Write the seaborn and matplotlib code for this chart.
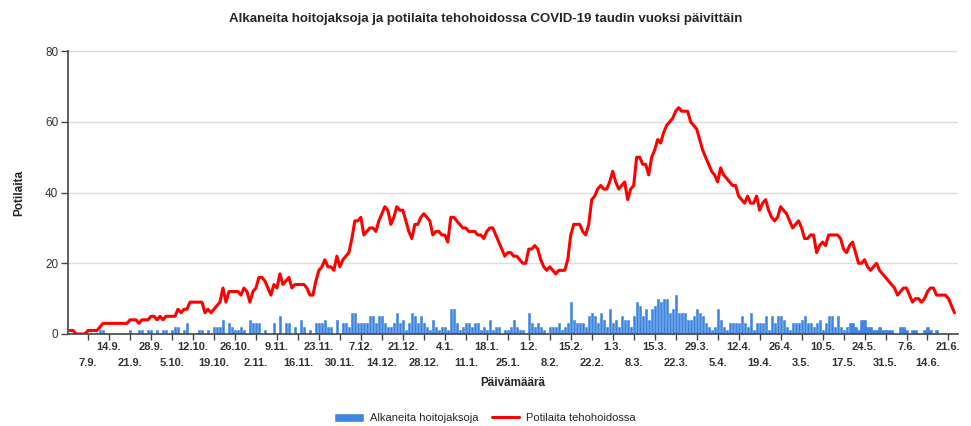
import numpy as np
import pandas as pd
import matplotlib
matplotlib.use("Agg")
import matplotlib.pyplot as plt
import seaborn as sns

# daily values from 1.9.2020 onwards (one entry per day)
start_date = "2020-09-01"

potilaita = [
    1, 1, 0, 0, 0, 0, 1, 1, 1, 1, 2, 3, 3, 3, 3, 3, 3, 3, 3, 3,
    4, 4, 4, 3, 4, 4, 4, 5, 5, 4, 5, 4, 5, 5, 5, 5, 7, 6, 7, 7,
    9, 9, 9, 9, 9, 6, 7, 6, 7, 8,
    9, 13, 9, 12, 12, 12, 12, 11, 13, 12, 9, 12, 13, 16, 16, 15, 13, 11, 14, 13,
    17, 14, 15, 16, 13, 14, 14, 14, 14, 13, 11, 11, 15, 18, 19, 21, 19, 19, 18, 22,
    19, 21, 22, 23, 27, 32, 32, 33, 28, 29,
    30, 30, 29, 32, 34, 36, 35, 31, 33, 36, 35, 35, 32, 29, 27, 31, 31, 33, 34, 33,
    32, 28, 29, 29, 28, 28, 26, 33, 33, 32, 31, 30, 30, 29, 29, 29, 28, 28, 27, 29,
    30, 30, 28, 26, 24, 22, 23, 23, 22, 22,
    21, 20, 20, 24, 24, 25, 24, 21, 19, 18, 19, 18, 17, 18, 18, 18, 21, 28, 31, 31,
    31, 29, 28, 31, 38, 39, 41, 42, 41, 41, 43, 46, 43, 41, 42, 43, 38, 41, 42, 50,
    50, 48, 48, 45, 50, 52, 55, 54, 57, 59,
    60, 61, 63, 64, 63, 63, 63, 60, 59, 58, 55, 52, 50, 48, 46, 45, 43, 47, 45, 44,
    43, 42, 42, 39, 38, 37, 39, 37, 37, 39, 35, 37, 38, 35, 33, 32, 33, 36, 35, 34,
    32, 30, 31, 32, 30, 27, 27, 28, 28, 23,
    25, 26, 25, 28, 28, 28, 28, 27, 24, 23, 25, 26, 23, 20, 20, 21, 19, 18, 19, 20,
    18, 17, 16, 15, 14, 13, 11, 12, 13, 13, 11, 9, 10, 10, 9, 10, 12, 13, 13, 11,
    11, 11, 11, 10, 8, 6,
]

alkaneita = [
    0, 0, 0, 0, 0, 0, 0, 0, 0, 0, 1, 1, 0, 0, 0, 0, 0, 0, 0, 0,
    1, 0, 0, 1, 1, 0, 1, 1, 0, 1, 0, 1, 1, 0, 1, 2, 2, 0, 1, 3,
    0, 0, 0, 1, 1, 0, 1, 0, 2, 2,
    2, 4, 0, 3, 2, 1, 1, 2, 1, 0, 4, 3, 3, 3, 0, 1, 0, 0, 3, 0,
    5, 0, 3, 3, 0, 2, 0, 4, 2, 0, 1, 0, 3, 3, 3, 4, 2, 2, 0, 4,
    0, 3, 3, 2, 6, 6, 3, 3, 3, 3,
    5, 5, 3, 5, 5, 3, 2, 2, 3, 6, 3, 4, 1, 3, 6, 5, 3, 5, 3, 2,
    1, 4, 2, 1, 2, 2, 1, 7, 7, 3, 1, 2, 3, 3, 2, 3, 3, 1, 2, 1,
    4, 1, 2, 2, 0, 1, 1, 2, 4, 2,
    1, 1, 0, 6, 3, 2, 3, 2, 1, 0, 2, 2, 2, 3, 1, 2, 3, 9, 4, 3,
    3, 3, 2, 5, 6, 5, 3, 6, 4, 2, 7, 3, 4, 2, 5, 4, 4, 2, 5, 9,
    8, 5, 7, 4, 7, 8, 10, 9, 10, 10,
    6, 7, 11, 6, 6, 6, 4, 4, 5, 7, 6, 5, 3, 2, 1, 2, 7, 4, 2, 1,
    3, 3, 3, 3, 5, 3, 2, 6, 1, 3, 3, 3, 5, 1, 5, 3, 5, 5, 4, 2,
    1, 3, 3, 3, 4, 5, 3, 3, 2, 3,
    4, 1, 3, 5, 5, 2, 5, 2, 1, 2, 3, 3, 2, 1, 4, 4, 2, 2, 1, 1,
    2, 1, 1, 1, 1, 0, 0, 2, 2, 1, 0, 1, 1, 0, 0, 1, 2, 1, 0, 1,
    0, 0, 0, 0, 0, 0,
]

n = min(len(potilaita), len(alkaneita))
dates = pd.date_range(start_date, periods=n, freq="D")
df = pd.DataFrame({
    "day": np.arange(n),
    "alkaneita": alkaneita[:n],
    "potilaita": potilaita[:n],
})

sns.set_theme(style="white")
plt.rcParams["font.family"] = ["Liberation Sans", "DejaVu Sans"]

fig = plt.figure(figsize=(9.71, 4.26), dpi=100)
ax = fig.add_axes([0.070, 0.216, 0.917, 0.664])

blue = "#3d85e0"
red = "#ff0000"

sns.barplot(data=df, x="day", y="alkaneita", native_scale=True, color=blue,
            width=0.7, saturation=1, edgecolor=blue, linewidth=0.4,
            ax=ax, label="Alkaneita hoitojaksoja")
sns.lineplot(data=df, x="day", y="potilaita", color=red, linewidth=2.2, ax=ax,
             label="Potilaita tehohoidossa")

ax.set_xlim(-0.7, 296.3)
ax.set_ylim(0, 80)
ax.set_yticks([0, 20, 40, 60, 80])
ax.yaxis.grid(True, color="#dcdcdc", linewidth=1)
ax.set_axisbelow(True)

# weekly ticks, labels alternate between two rows
tick_days = list(range(6, n, 7))
upper_days, upper_labels, lower_days, lower_labels = [], [], [], []
for i, d in enumerate(tick_days):
    dt = dates[d]
    lab = f"{dt.day}.{dt.month}."
    if i % 2 == 0:
        lower_days.append(d)
        lower_labels.append(lab)
    else:
        upper_days.append(d)
        upper_labels.append(lab)
ax.set_xticks(upper_days)
ax.set_xticklabels(upper_labels, fontsize=8, fontweight="bold", color="#333333")
ax.set_xticks(lower_days, minor=True)
ax.set_xticklabels(lower_labels, minor=True, fontsize=8, fontweight="bold",
                   color="#333333")
ax.tick_params(axis="x", which="major", direction="out", length=4, width=1,
               color="#444444", pad=2, bottom=True)
ax.tick_params(axis="x", which="minor", direction="out", length=4, width=1,
               color="#444444", pad=13.5, bottom=True)
ax.tick_params(axis="y", direction="out", length=5, width=1, color="#444444",
               labelsize=8.5, labelcolor="#333333", pad=2, left=True)

for s in ["top", "right"]:
    ax.spines[s].set_visible(False)
for s in ["left", "bottom"]:
    ax.spines[s].set_color("#444444")
    ax.spines[s].set_linewidth(1.2)

ax.set_xlabel("Päivämäärä", fontsize=8.5, fontweight="bold", labelpad=6.5)
ax.set_ylabel("Potilaita", fontsize=8.5, fontweight="bold", labelpad=14)

fig.text(0.5, 0.955, "Alkaneita hoitojaksoja ja potilaita tehohoidossa COVID-19 taudin vuoksi päivittäin",
         ha="center", va="center", fontsize=9.5, fontweight="bold",
         family=["Liberation Sans Narrow", "Liberation Sans", "DejaVu Sans"])

ax.get_legend().remove()
handles, labels = ax.get_legend_handles_labels()
order = [labels.index("Alkaneita hoitojaksoja"), labels.index("Potilaita tehohoidossa")]
fig.legend([handles[i] for i in order], [labels[i] for i in order],
           loc="center", bbox_to_anchor=(0.5, 0.018), ncol=2,
           frameon=False, fontsize=8, handlelength=2.5, columnspacing=1.2,
           handletextpad=0.6)

fig.savefig("out.png", dpi=100)
